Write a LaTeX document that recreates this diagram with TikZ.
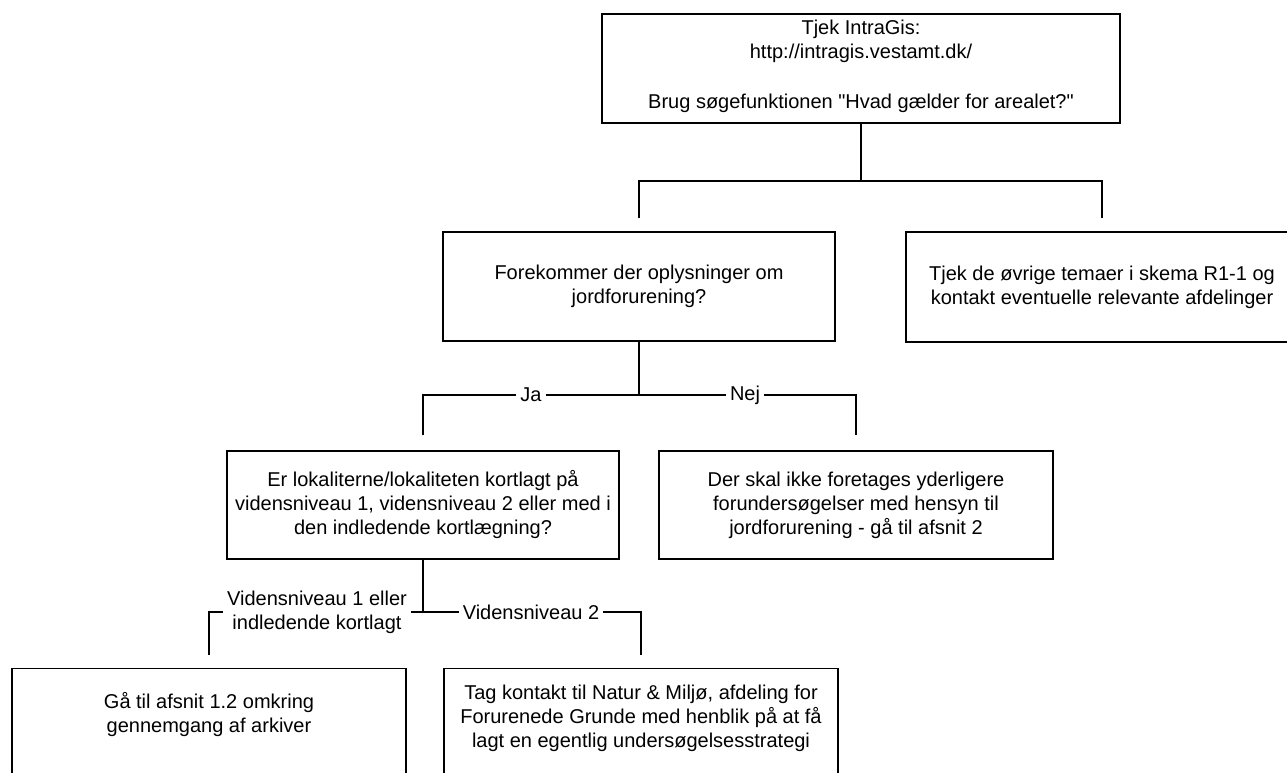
\documentclass[tikz,border=0pt]{standalone}
\usepackage{fontspec}
\newfontfamily\arial{Liberation Sans}
\usetikzlibrary{calc}
\begin{document}
\begin{tikzpicture}[x=1pt,y=-1pt, line width=1.4pt,
  box/.style={draw=black, line width=1.4pt, inner sep=0pt, align=center,
    font=\arial\fontsize{20}{24}\selectfont},
  txt/.style={inner sep=0pt, align=center, font=\arial\fontsize{20}{24}\selectfont},
  lbl/.style={fill=white, inner xsep=4pt, inner ysep=1pt, align=center,
    font=\arial\fontsize{20}{24}\selectfont}]
\useasboundingbox (0,0) rectangle (1287,772);
\clip (0,0) rectangle (1287,772);
\fill[white] (0,0) rectangle (1287,772);

% boxes
\node[box, minimum width=518pt, minimum height=109pt] (top) at (861,68.5) {};
\node[txt] (toptxt) at (861,66) {Tjek IntraGis:\\http://intragis.vestamt.dk/\\[26pt]Brug søgefunktionen "Hvad gælder for arealet?"};

\node[box, minimum width=392pt, minimum height=109pt] (q1) at (639,286.5)
  {Forekommer der oplysninger om\\jordforurening?};
\node[box, minimum width=392pt, minimum height=110pt] (oth) at (1102,287)
  {Tjek de øvrige temaer i skema R1-1 og\\kontakt eventuelle relevante afdelinger};

\node[box, minimum width=392pt, minimum height=108pt] (q2) at (423,505)
  {Er lokaliterne/lokaliteten kortlagt på\\vidensniveau 1, vidensniveau 2 eller med i\\den indledende kortlægning?};
\node[box, minimum width=394pt, minimum height=108pt] (nej) at (856,505)
  {Der skal ikke foretages yderligere\\forundersøgelser med hensyn til\\jordforurening - gå til afsnit 2};

\node[box, minimum width=394pt, minimum height=120pt, anchor=north] (b6) at (209,668) {};
\node[txt] (b6txt) at (209,714) {Gå til afsnit 1.2 omkring\\gennemgang af arkiver};
\node[box, minimum width=394pt, minimum height=120pt, anchor=north] (b7) at (641,668) {};
\node[txt] (b7txt) at (641,718) {Tag kontakt til Natur \& Miljø, afdeling for\\Forurenede Grunde med henblik på at få\\lagt en egentlig undersøgelsesstrategi};

% connectors
\coordinate (h1) at (861,181);
\draw (top.south) -- (h1);
\draw ($(q1.north)+(0,-13)$) |- (h1) -| ($(oth.north)+(0,-13)$);

\coordinate (h2) at (639,395);
\draw (q1.south) -- (h2);
\draw ($(q2.north)+(0,-15)$) |- (h2) -| ($(nej.north)+(0,-15)$);
\node[lbl] (ja) at (531,395) {Ja};
\node[lbl] (nejlbl) at (745,395) {Nej};

\coordinate (h3) at (423,612);
\draw (q2.south) -- (h3);
\draw ($(b6.north)+(0,-13)$) |- (h3) -| ($(b7.north)+(0,-13)$);
\node[lbl] (v1) at (317,612) {Vidensniveau 1 eller\\indledende kortlagt};
\node[lbl] (v2) at (531,612) {Vidensniveau 2};
\end{tikzpicture}
\end{document}
